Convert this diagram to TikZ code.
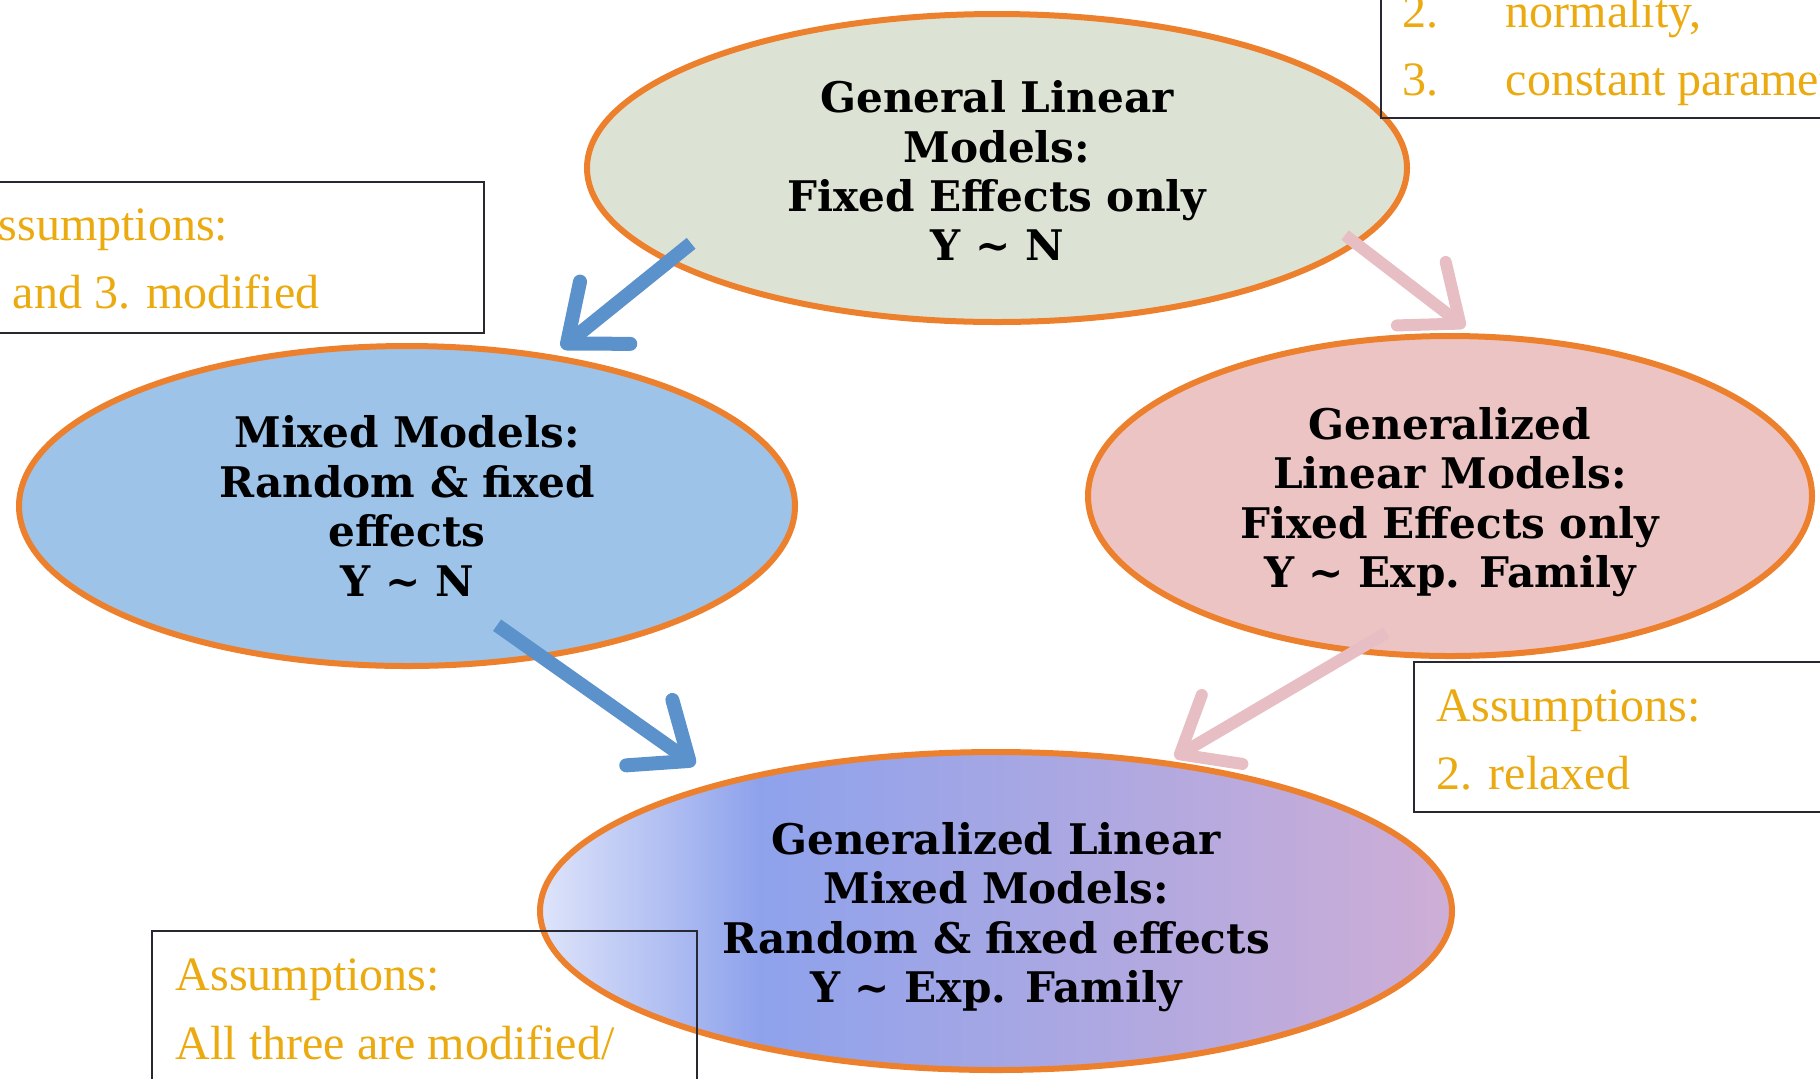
\documentclass[tikz,border=0pt]{standalone}
\usepackage{fontspec}
\setmainfont{Liberation Serif}
\newfontfamily\ovalfont{DejaVu Serif}
\usetikzlibrary{shapes.geometric}
\usetikzlibrary{arrows.meta}
\usetikzlibrary{calc}

\definecolor{ovalline}{RGB}{236,128,44}
\definecolor{glmfill}{RGB}{221,227,212}
\definecolor{mixedfill}{RGB}{157,195,232}
\definecolor{glzfill}{RGB}{236,196,196}
\definecolor{glmmlight}{RGB}{222,228,250}
\definecolor{glmmblue}{RGB}{142,162,236}
\definecolor{glmmpink}{RGB}{206,174,214}
\definecolor{notetext}{RGB}{234,170,16}
\definecolor{noteline}{RGB}{40,40,50}
\definecolor{arrowblue}{RGB}{92,146,204}
\definecolor{arrowpink}{RGB}{231,190,196}

\pgfdeclarehorizontalshading{glmmshade}{100bp}{color(0bp)=(glmmlight); color(25bp)=(glmmlight); color(37bp)=(glmmblue); color(75bp)=(glmmpink); color(100bp)=(glmmpink)}

% first line strut, pushes the text block a little down in its oval
\newcommand{\ovalstrut}[1][12.6pt]{\rule{0pt}{#1}}

\tikzset{
  oval/.style={ellipse, draw=ovalline, line width=0.6mm, inner sep=0pt, align=center,
    font=\ovalfont\bfseries\fontsize{12pt}{14pt}\selectfont},
  note/.style={text=notetext, inner sep=0pt, font=\fontsize{13.66pt}{19pt}\selectfont},
  notebox/.style={draw=noteline, line width=0.25mm},
  bluearrow/.style={draw=arrowblue, line width=1.4mm, -{Straight Barb[round,length=4.9mm,width=8mm]}},
  pinkarrow/.style={draw=arrowpink, line width=1.2mm, -{Straight Barb[round,length=4.9mm,width=8mm]}}
}

\begin{document}
\begin{tikzpicture}[x=0.1mm, y=-0.1mm]
\useasboundingbox (0,0) rectangle (1820,1078);
\clip (0,0) rectangle (1820,1078);

% the four kinds of model
\node[oval, fill=glmfill, minimum width=82mm, minimum height=30.8mm] (glm) at (997,168)
  {\ovalstrut[10.6pt]General Linear\\Models:\\Fixed Effects only\\Y \textasciitilde{} N};
\node[oval, fill=mixedfill, minimum width=77.6mm, minimum height=32mm,
  font=\ovalfont\bfseries\fontsize{12pt}{14.2pt}\selectfont] (mixed) at (407,506)
  {Mixed Models:\\Random \& fixed\\effects\\Y \textasciitilde{} N};
\node[oval, fill=glzfill, minimum width=72.4mm, minimum height=32mm] (glz) at (1450,496)
  {\ovalstrut Generalized\\Linear Models:\\Fixed Effects only\\Y \textasciitilde{} Exp. Family};
\node[oval, shading=glmmshade, minimum width=91.2mm, minimum height=31.8mm] (glmm) at (996,911)
  {\ovalstrut Generalized Linear\\Mixed Models:\\Random \& fixed effects\\Y \textasciitilde{} Exp. Family};

% arrows between them
\draw[bluearrow] ($(glm.-164.5)!-3.06mm!(mixed.46.3)$) -- ($(mixed.46.3)!1.1mm!(glm.-164.5)$);
\draw[bluearrow] ($(mixed.-48.4)!-5.79mm!(glmm.155.1)$) -- ($(glmm.155.1)!2.93mm!(mixed.-48.4)$);
\draw[pinkarrow] ($(glm.-12.2)!-1.57mm!(glz.82.5)$) -- ($(glz.82.5)!1mm!(glm.-12.2)$);
\draw[pinkarrow] ($(glz.-122.25)!-3.98mm!(glmm.41.9)$) -- ($(glmm.41.9)!0.7mm!(glz.-122.25)$);

% assumption notes
\draw[notebox] (1381,-10) rectangle (1830,118);
\node[note, anchor=base west] (n2) at (1402,27) {2.};
\node[note, anchor=base west] (n2txt) at (1505,27) {normality,};
\node[note, anchor=base west] (n3) at (1402,95) {3.};
\node[note, anchor=base west] (n3txt) at (1505,95) {constant parameters};

\draw[notebox] (-10,182) rectangle (484,333);
\node[note, anchor=base east] (mixhead) at (229,240) {Assumptions:};
\node[note, anchor=base west] (mixnote) at (12,308) {and 3. modified};

\draw[notebox] (1414,662) rectangle (1830,812);
\node[note, anchor=base west] (glzhead) at (1436,721) {Assumptions:};
\node[note, anchor=base west] (glznote) at (1436,789) {2. relaxed};

\draw[notebox] (152,931) rectangle (697,1090);
\node[note, anchor=base west] (glmmhead) at (175,990) {Assumptions:};
\node[note, anchor=base west] (glmmnote) at (175,1059) {All three are modified/};
\end{tikzpicture}
\end{document}
